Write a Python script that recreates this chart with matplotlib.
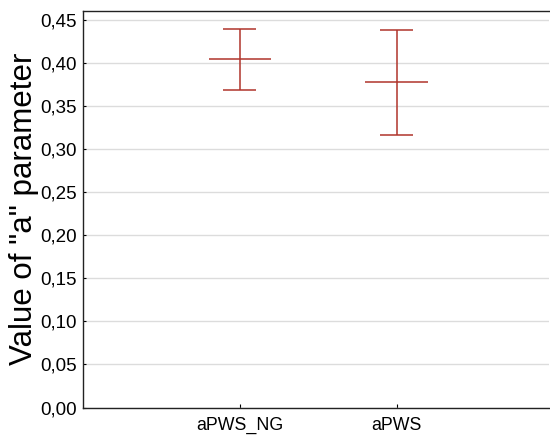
import matplotlib
matplotlib.use("Agg")
import matplotlib.pyplot as plt

categories = ["aPWS_NG", "aPWS"]
means = [0.4043, 0.3776]
upper = [0.4399, 0.4380]
lower = [0.3687, 0.3168]

plt.rcParams['font.family'] = ['Liberation Sans', 'DejaVu Sans']
fig = plt.figure(figsize=(5.5, 4.37), dpi=100)
ax = fig.add_axes([0.151, 0.0675, 0.847, 0.9075])

color = "#b0342b"
xs = [1, 2]
for x, m, u, l in zip(xs, means, upper, lower):
    ax.vlines(x, l, u, color=color, lw=1.1)
    ax.hlines([l, u], x - 0.105, x + 0.105, color=color, lw=1.1)
    ax.hlines(m, x - 0.2, x + 0.2, color=color, lw=1.1)

ax.set_xlim(0, 2.97)
ax.set_ylim(0, 0.4604)
yt = [i * 0.05 for i in range(10)]
ax.set_yticks(yt)
ax.set_yticklabels([f"{v:.2f}".replace(".", ",") for v in yt], fontsize=13.5)
ax.set_xticks(xs)
ax.set_xticklabels(categories, fontsize=12.75)
ax.tick_params(axis='x', direction='in', length=3, width=0.8, pad=7)
ax.tick_params(axis='y', direction='in', length=2, width=0.8, pad=4.5)
ax.yaxis.grid(True, color="#dcdcdc", lw=1)
ax.set_axisbelow(True)
for s in ['left', 'bottom', 'top']:
    ax.spines[s].set_color('#222222')
    ax.spines[s].set_linewidth(1)
ax.spines['right'].set_visible(False)
ax.set_ylabel('Value of "a" parameter', fontsize=22.5, labelpad=1)

fig.savefig("out.png", dpi=100)
